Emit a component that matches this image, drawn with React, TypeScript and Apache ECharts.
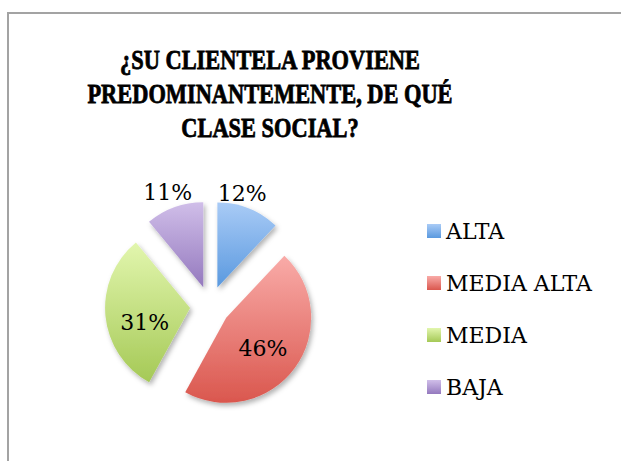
import React, { useEffect, useRef } from "react";
import * as echarts from "echarts";

const categories = ["ALTA", "MEDIA ALTA", "MEDIA", "BAJA"];
const values = [12, 46, 31, 11];
const titleLines = ["¿SU CLIENTELA PROVIENE", "PREDOMINANTEMENTE, DE QUÉ", "CLASE SOCIAL?"];
const gradientTops = ["#a9cbf6", "#f9aba8", "#e2f6ae", "#d0bee9"];
const gradientBottoms = ["#5a99df", "#da574e", "#a5c956", "#9479be"];

export default function App() {
  const ref = useRef<HTMLDivElement>(null);

  useEffect(() => {
    document.body.style.margin = "0";
    const chart = echarts.init(ref.current!, null, { renderer: "svg" });
    const grad = (i: number) =>
      new echarts.graphic.LinearGradient(0, 0, 0, 1, [
        { offset: 0, color: gradientTops[i] },
        { offset: 1, color: gradientBottoms[i] },
      ]);
    const labelFont = { fontFamily: "DejaVu Serif", fontSize: 22, color: "#000" };
    const labelShift = [
      [8, -52],
      [0, 4],
      [0, 10],
      [-20, -52],
    ];

    chart.setOption({
      animation: false,
      backgroundColor: "#ffffff",
      graphic: [
        {
          type: "polyline",
          silent: true,
          shape: { points: [[8, 470], [8, 13], [630, 13]] },
          style: { stroke: "#a3a3a3", lineWidth: 2, fill: null },
        },
        ...titleLines.map((t, i) => ({
          type: "text",
          x: 270,
          y: 59 + i * 34,
          scaleX: 0.8,
          silent: true,
          style: {
            text: t,
            fontFamily: "Liberation Serif",
            fontWeight: "bold",
            fontSize: 28,
            fill: "#000",
            stroke: "#000",
            lineWidth: 0.8,
            align: "center",
            verticalAlign: "middle",
          },
        })),
      ],
      legend: {
        orient: "vertical",
        left: 422,
        top: 215,
        itemWidth: 14,
        itemHeight: 14,
        itemGap: 30,
        icon: "rect",
        selectedMode: false,
        textStyle: { ...labelFont },
        data: categories,
      },
      series: [
        {
          type: "pie",
          center: [210, 306],
          radius: 85,
          startAngle: 90,
          clockwise: true,
          selectedMode: "multiple",
          selectedOffset: 20,
          silent: true,
          emphasis: { disabled: true },
          itemStyle: {
            shadowBlur: 5,
            shadowOffsetX: 2,
            shadowOffsetY: 3,
            shadowColor: "rgba(0,0,0,0.3)",
          },
          label: {
            show: true,
            position: "inside",
            formatter: "{c}%",
            ...labelFont,
          },
          labelLine: { show: false },
          labelLayout: (params: any) => ({
            dx: labelShift[params.dataIndex][0],
            dy: labelShift[params.dataIndex][1],
          }),
          data: categories.map((name, i) => ({
            name,
            value: values[i],
            selected: true,
            itemStyle: { color: grad(i) },
          })),
        },
      ],
    });
    return () => chart.dispose();
  }, []);

  return (
    <div
      ref={ref}
      style={{ position: "fixed", left: 0, top: 0, width: 621, height: 461 }}
    />
  );
}
